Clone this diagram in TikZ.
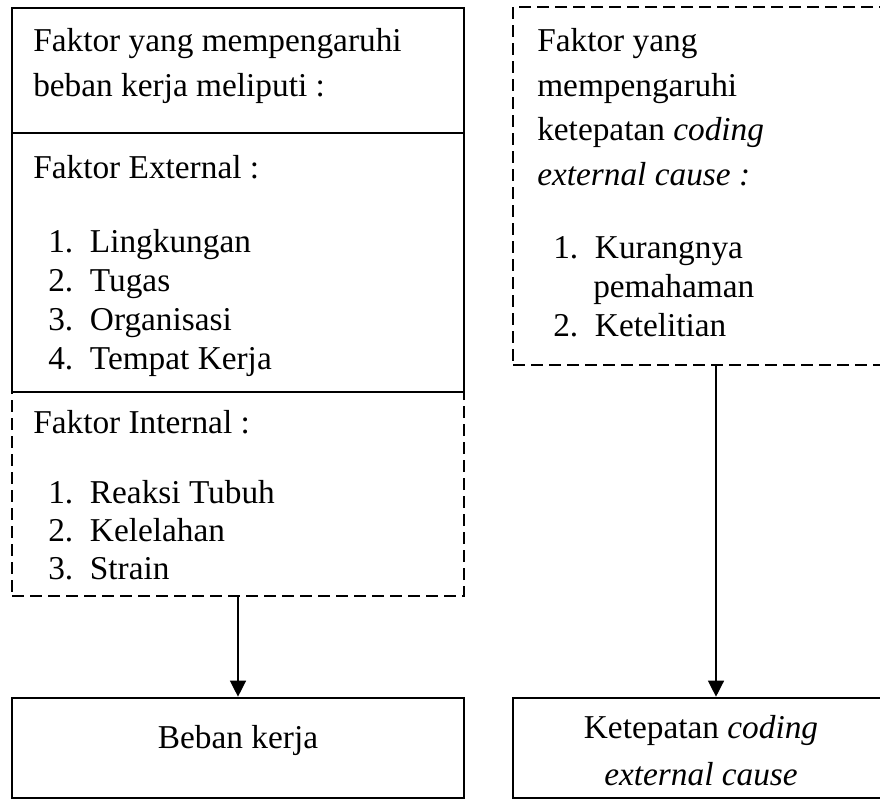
\documentclass[tikz,border=0pt]{standalone}
\usepackage{fontspec}
\setmainfont{Liberation Serif}
\usetikzlibrary{arrows.meta}

\begin{document}
\begin{tikzpicture}[x=0.75pt,y=-0.75pt,every path/.style={>={Triangle[width=12pt,length=12pt]}},
  every node/.style={font=\fontsize{25}{27}\selectfont,inner sep=0pt},
  box/.style={draw,rectangle,line width=2pt},
  dbox/.style={box,dash pattern=on 9pt off 4.5pt},
  txt/.style={draw=none,anchor=west,text height=17pt,text depth=5pt}]
\useasboundingbox (0,0) rectangle (880,800);
\clip (0,0) rectangle (880,800);
% left column
\node[box,minimum width=339pt,minimum height=93.75pt]  (a) at (238,70.5) {};
\node[box,minimum width=339pt,minimum height=194.25pt] (b) at (238,262.5) {};
\node[dbox,minimum width=339pt,minimum height=153pt]   (c) at (238,494) {};
\node[box,minimum width=339pt,minimum height=75pt]     (d) at (238,748) {};
\node[txt] (a1) at (33,43)  {Faktor yang mempengaruhi};
\node[txt] (a2) at (33,88)  {beban kerja meliputi :};
\node[txt] (b0) at (33,170) {Faktor External :};
\node[txt] (b1) at (48,244) {1.\ \ Lingkungan};
\node[txt] (b2) at (48,283) {2.\ \ Tugas};
\node[txt] (b3) at (48,322) {3.\ \ Organisasi};
\node[txt] (b4) at (48,361) {4.\ \ Tempat Kerja};
\node[txt] (c0) at (33,425) {Faktor Internal :};
\node[txt] (c1) at (48,495) {1.\ \ Reaksi Tubuh};
\node[txt] (c2) at (48,533) {2.\ \ Kelelahan};
\node[txt] (c3) at (48,571) {3.\ \ Strain};
\node[txt,anchor=center] (d1) at (238,740) {Beban kerja};
% right column
\node[dbox,minimum width=304.5pt,minimum height=268.5pt] (e) at (716,186) {};
\node[box,minimum width=304.5pt,minimum height=75pt]     (f) at (716,748) {};
\node[txt] (e1) at (537,43)  {Faktor yang};
\node[txt] (e2) at (537,88)  {mempengaruhi};
\node[txt] (e3) at (537,132) {ketepatan \textit{coding}};
\node[txt] (e4) at (537,177) {\textit{external cause :}};
\node[txt] (e5) at (553,250) {1.\ \ Kurangnya};
\node[txt] (e6) at (593,289) {pemahaman};
\node[txt] (e7) at (553,328) {2.\ \ Ketelitian};
\node[txt,anchor=center] (f1) at (701,730) {Ketepatan \textit{coding}};
\node[txt,anchor=center] (f2) at (701,777) {\textit{external cause}};
\draw[->,line width=1pt] (c) -- (d);
\draw[->,line width=1pt] (e) -- (f);
\end{tikzpicture}
\end{document}
